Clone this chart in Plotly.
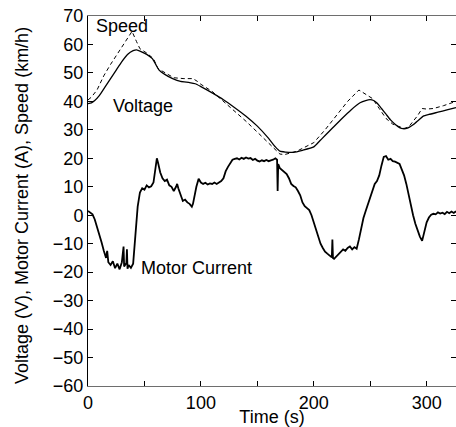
import plotly.graph_objects as go

# ---- data ----
speed_t = [0, 3, 8, 14, 20, 28, 35, 39, 43, 46, 52, 58, 62, 66, 72, 76, 85, 93, 97, 100,
           110, 120, 130, 140, 150, 160, 166, 170, 174, 179, 185, 190, 200, 210, 220, 230,
           240, 246, 252, 258, 264, 270, 276, 280, 284, 288, 292, 296, 300, 306, 315, 326]
speed_v = [40.5, 41.5, 44, 49, 53, 58, 62.5, 64.6, 61, 58.5, 57, 55, 51.5, 50.5, 49, 48.3, 48, 48, 47, 46,
           43.5, 40, 36.8, 33, 29.2, 25.4, 22.8, 21.5, 21.3, 21.8, 22.5, 23.5, 25.5, 30, 35, 40,
           44, 42.5, 41, 37.5, 34, 32, 31, 30.5, 31, 33, 35, 37.5, 37.3, 37.5, 38.5, 40]

volt_t = [0, 3, 6, 10, 15, 20, 25, 30, 35, 40, 43, 47, 52, 57, 60, 63, 68, 75, 82, 90, 95, 100,
          110, 120, 130, 140, 150, 160, 166, 170, 175, 182, 190, 200, 205, 210, 217, 225, 233,
          241, 246, 250, 253, 256, 260, 264, 268, 272, 276, 279, 283, 288, 293, 297, 302, 310, 318, 326]
volt_v = [39.2, 39.5, 40.3, 42, 45, 48, 51, 54, 56.5, 57.8, 58.1, 57.5, 56.5, 55, 53, 51, 49.5, 48, 47, 46.6, 46.2, 45.2,
          43, 40.6, 37.8, 34.8, 31.3, 27, 24, 22.5, 22.2, 22.1, 22.8, 24, 26, 28, 30.8, 34, 37,
          39.5, 40.3, 40.6, 40.3, 39.4, 37.5, 35.5, 33.5, 32, 30.8, 30.4, 30.6, 31.8, 33.5, 34.8, 35.4, 36.2, 37, 37.8]

cur_t = [0, 2, 4, 6, 8, 10, 12, 14, 16, 17, 18, 20, 22, 24, 26, 28, 30, 31.5, 32, 34, 34.5, 35, 36, 38, 40,
         42, 44, 46, 48, 50, 52, 54, 56, 58, 60, 61, 62, 64, 66, 68, 70, 72, 74, 76, 78, 79, 80,
         82, 84, 86, 88, 90, 92, 93, 94, 96, 98, 100, 102, 104, 106, 108, 110, 112, 114, 116, 118,
         120, 122, 124, 126, 128, 130, 132, 134, 136, 138, 140, 142, 144, 146, 148, 150, 152, 154,
         156, 158, 160, 162, 164, 166, 167.5, 168, 168.5, 170, 172, 174, 176, 178, 180, 182, 184,
         186, 188, 190, 192, 194, 196, 198, 200, 202, 204, 206, 208, 210, 212, 214, 216, 216.5,
         217, 218, 220, 222, 224, 226, 228, 230, 232, 234, 236, 238, 240, 242, 244, 246, 248, 250,
         252, 254, 256, 258, 260, 262, 264, 266, 268, 270, 272, 274, 276, 278, 280, 282, 284, 286,
         288, 290, 292, 294, 296, 298, 300, 302, 304, 306, 308, 310, 312, 314, 316, 318, 320, 322, 324, 326]
cur_v = [1.5, 0.8, 0.3, -1.5, -4, -6.5, -9.5, -12.5, -15, -12.5, -16.5, -17.5, -16.2, -18.6, -17, -19, -16.5, -11, -18, -16.8, -12, -18.8, -17.5, -18.5, -17,
         -7, 3, 8, 9.5, 9, 10.5, 9.8, 10.2, 11.5, 17, 20, 18.5, 15, 13, 12, 12.5, 10.5, 10, 8.5, 10, 11, 9.5,
         7.5, 5, 5.5, 4.5, 4, 3, 4, 6.5, 10, 12.8, 11.5, 11, 11.4, 10.8, 11.2, 11, 11.5, 11, 11.6, 12,
         13, 15.5, 17, 18.5, 19.5, 19.8, 20, 19.6, 20.2, 19.8, 20.3, 19.9, 20.1, 19.4, 19.8, 19.2, 18.9, 19.3,
         19, 19.4, 19, 19.3, 19.5, 20, 19.5, 8.5, 18, 16.5, 15.8, 15, 14.5, 13, 11, 10.3, 9.8,
         8.5, 7, 4.5, 3.2, 2.5, 1.8, 0, -2.5, -5, -8, -10, -11.5, -12.8, -13.5, -14.2, -14.8, -8.5,
         -15, -15.3, -14.5, -13.5, -12.8, -12, -12.5, -11.5, -11, -12, -11.2, -11.8, -8.5, -4, -1, 1.5, 4, 6,
         8.5, 11, 12, 14, 17.5, 20.5, 20.8, 19.5, 19.8, 19, 18.8, 18.3, 18, 16, 14, 11, 7, 3,
         0, -3, -5.5, -7.5, -9, -6, -2.5, -0.8, 0.2, 0.5, 0.3, 1, 0.6, 0.9, 0.4, 1.2, 0.7, 1.3, 0.8, 1.4]

x_ticks = [0, 50, 100, 150, 200, 250, 300]
x_tick_labels = ["0", "", "100", "", "200", "", "300"]
y_ticks = list(range(-60, 71, 10))
y_title = "Voltage (V), Motor Current (A), Speed (km/h)"

FONT = "Liberation Sans, Arial, Helvetica, sans-serif"

fig = go.Figure()
fig.add_trace(go.Scatter(x=speed_t, y=speed_v, mode="lines",
                         line=dict(color="black", width=1, dash="4px,3px"), showlegend=False))
fig.add_trace(go.Scatter(x=volt_t, y=volt_v, mode="lines",
                         line=dict(color="black", width=1.3, shape="spline", smoothing=0.5), showlegend=False))
fig.add_trace(go.Scatter(x=cur_t, y=cur_v, mode="lines",
                         line=dict(color="black", width=1.8), showlegend=False))

for txt, x, y in [("Speed", 30.5, 66.6), ("Voltage", 49, 38.5), ("Motor Current", 96, -18.7)]:
    fig.add_annotation(x=x, y=y, text=txt, showarrow=False,
                       font=dict(family=FONT, size=18, color="black"))

# y-axis title, placed as a rotated annotation left of the tick labels
fig.add_annotation(xref="paper", yref="paper", x=0, y=0.5, xshift=-66, yshift=-5,
                   text=y_title, textangle=-90, showarrow=False,
                   xanchor="center", yanchor="middle",
                   font=dict(family=FONT, size=18, color="black"))

fig.update_layout(
    width=456, height=427,
    margin=dict(l=88, r=0, t=16, b=41),
    paper_bgcolor="white", plot_bgcolor="white",
    font=dict(family=FONT, size=18, color="black"),
    xaxis=dict(range=[0, 326], tickvals=x_ticks, ticktext=x_tick_labels, automargin=False,
               ticks="inside", ticklen=5, tickcolor="black", showgrid=False, zeroline=False,
               showline=True, linecolor="#6e6e6e", linewidth=1, mirror="ticks",
               title=dict(text="Time (s)", standoff=2, font=dict(size=18))),
    yaxis=dict(range=[-60, 70], tickvals=y_ticks, automargin=False,
               ticks="inside", ticklen=5, tickcolor="black", showgrid=False, zeroline=False,
               showline=True, linecolor="black", linewidth=1, mirror="ticks"),
)

fig.write_html("out.html", config={"displayModeBar": False},
               post_script="document.body.style.margin='0';document.body.style.padding='0';")
